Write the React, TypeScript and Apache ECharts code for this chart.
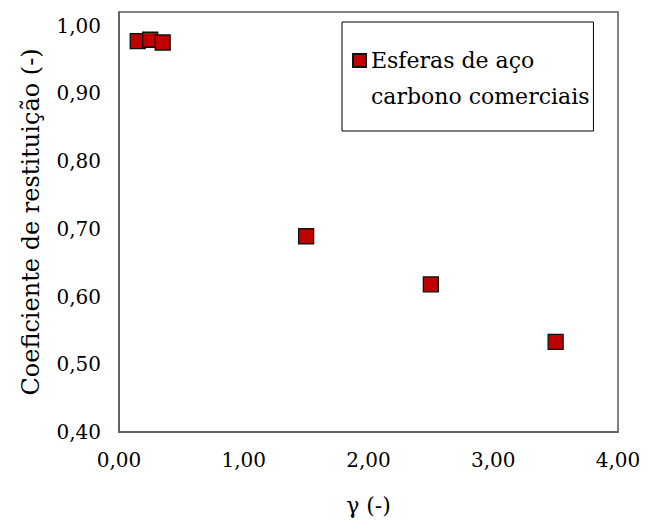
import React, { useEffect, useRef } from "react";
import * as echarts from "echarts";

const gammaValues = [0.15, 0.25, 0.35, 1.5, 2.5, 3.5];
const restitutionValues = [0.977, 0.979, 0.975, 0.689, 0.618, 0.533];
const seriesName = "Esferas de aço carbono comerciais";
const legendLines = ["Esferas de aço", "carbono comerciais"];
const xAxisTitle = "γ (-)";
const yAxisTitle = "Coeficiente de restituição (-)";

const FONT = "DejaVu Serif";

export default function App() {
  const ref = useRef<HTMLDivElement>(null);
  useEffect(() => {
    if (!ref.current) return;
    const chart = echarts.init(ref.current, null, { renderer: "svg" });
    const fmt = (v: number) => v.toFixed(2).replace(".", ",");
    chart.setOption({
      animation: false,
      backgroundColor: "#fff",
      textStyle: { fontFamily: FONT },
      grid: {
        left: 111,
        right: 26,
        top: 4,
        bottom: 73,
        show: true,
        borderColor: "#595959",
        borderWidth: 1.5,
        containLabel: false,
      },
      legend: {
        left: 334,
        top: 14,
        orient: "vertical",
        data: [seriesName],
        formatter: () => legendLines.join("\n"),
        icon: "path://M0,0h13v13h-13zM0,48h0.01",
        itemWidth: 13,
        itemHeight: 48,
        borderColor: "#000",
        borderWidth: 1,
        padding: [20, 4, 17, 10],
        textStyle: {
          fontFamily: FONT,
          fontSize: 22,
          color: "#000",
          lineHeight: 36,
        },
      },
      xAxis: {
        type: "value",
        min: 0,
        max: 4,
        interval: 1,
        name: xAxisTitle,
        nameLocation: "middle",
        nameGap: 62,
        nameTextStyle: { fontFamily: FONT, fontSize: 22, color: "#000" },
        axisLine: { show: true, lineStyle: { color: "#595959", width: 1.5 } },
        axisTick: { show: false },
        splitLine: { show: false },
        axisLabel: {
          fontFamily: FONT,
          fontSize: 20,
          color: "#000",
          margin: 18,
          formatter: fmt,
        },
      },
      yAxis: {
        type: "value",
        min: 0.4,
        max: 1.02,
        interval: 0.1,
        name: yAxisTitle,
        nameLocation: "middle",
        nameGap: 76,
        nameTextStyle: { fontFamily: FONT, fontSize: 24, color: "#000" },
        axisLine: { show: true, lineStyle: { color: "#595959", width: 1.5 } },
        axisTick: { show: false },
        splitLine: { show: false },
        axisLabel: {
          fontFamily: FONT,
          fontSize: 20,
          color: "#000",
          margin: 18,
          formatter: fmt,
          showMaxLabel: false,
        },
      },
      series: [
        {
          name: seriesName,
          type: "scatter",
          symbol: "rect",
          symbolSize: 15,
          data: gammaValues.map((x, i) => [x, restitutionValues[i]]),
          itemStyle: { color: "#C00000", borderColor: "#111", borderWidth: 1.3, opacity: 1 },
        },
      ],
    });
    return () => chart.dispose();
  }, []);
  return <div ref={ref} style={{ width: 636, height: 513 }} />;
}
